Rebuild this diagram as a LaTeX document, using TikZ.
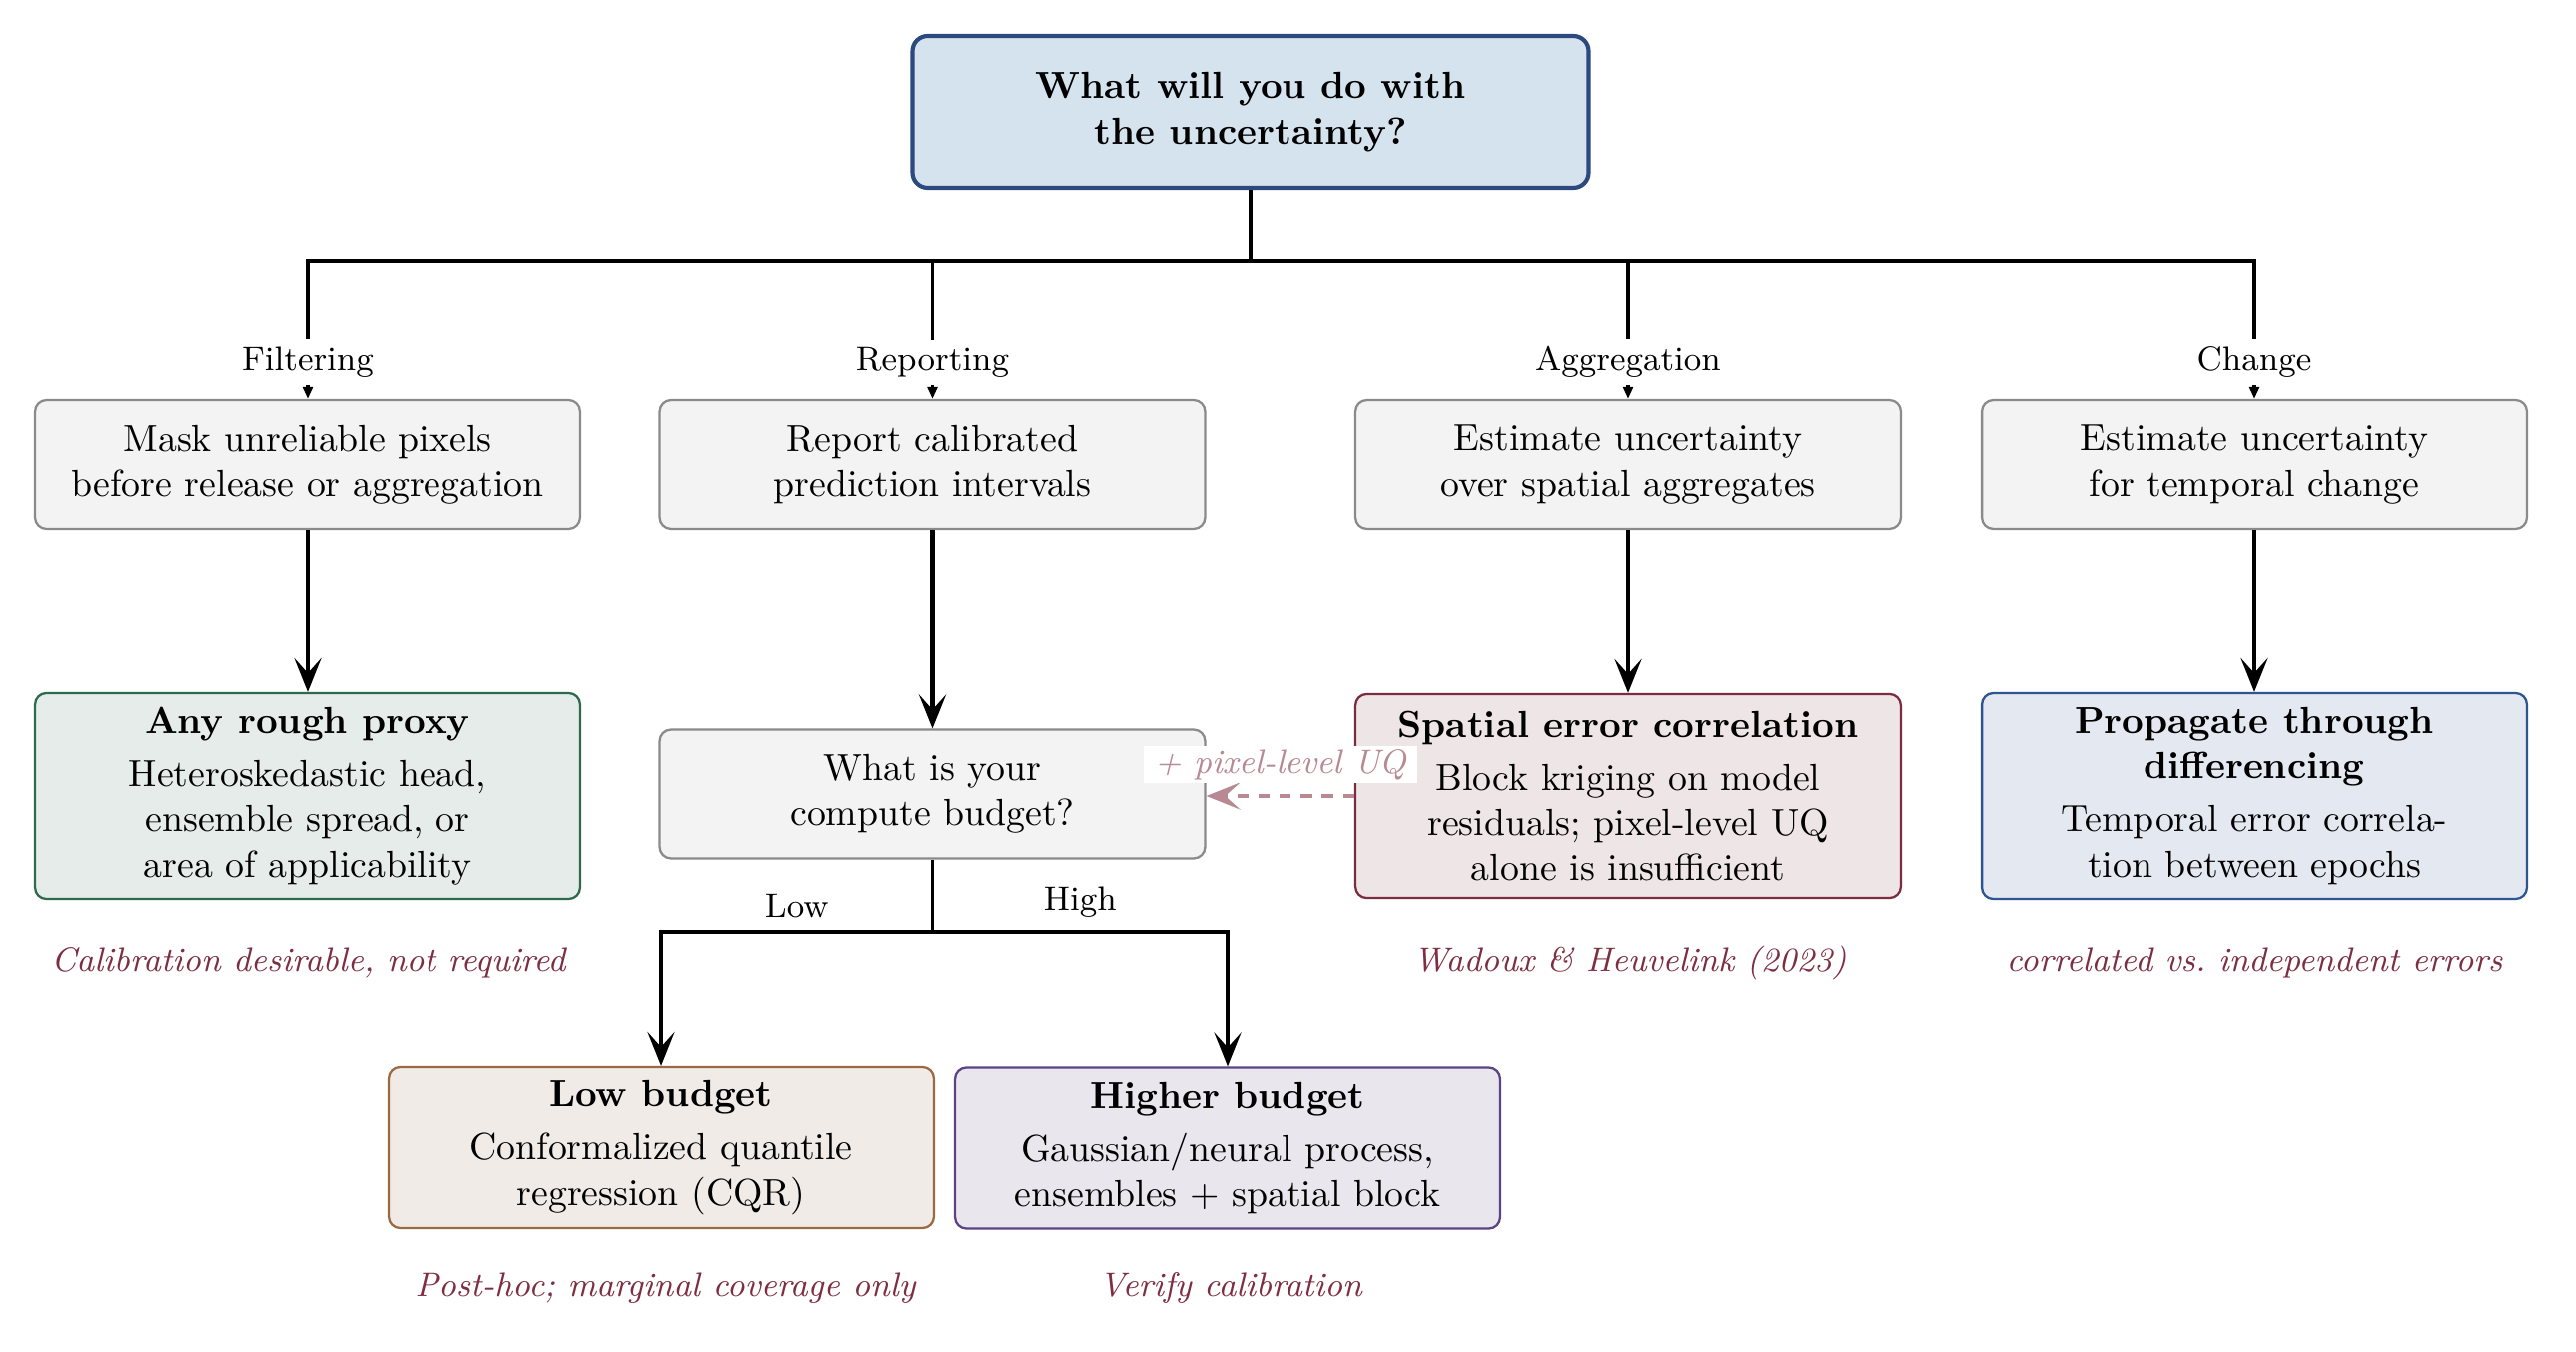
\documentclass[tikz,border=0pt]{standalone}
\usetikzlibrary{arrows.meta}
\definecolor{rootfill}{HTML}{D5E3EF}
\definecolor{rootdraw}{HTML}{2C4A7E}
\definecolor{grayfill}{HTML}{F3F3F3}
\definecolor{graydraw}{HTML}{8A8A8A}
\definecolor{greenfill}{HTML}{E6ECE9}
\definecolor{greendraw}{HTML}{2E6A4E}
\definecolor{redfill}{HTML}{EEE5E7}
\definecolor{reddraw}{HTML}{7C2C41}
\definecolor{bluefill}{HTML}{E4E8F0}
\definecolor{bluedraw}{HTML}{2D5592}
\definecolor{brownfill}{HTML}{F0EBE7}
\definecolor{browndraw}{HTML}{9B6A42}
\definecolor{purplefill}{HTML}{E9E6EE}
\definecolor{purpledraw}{HTML}{5B4384}
\definecolor{notecol}{HTML}{7D2E43}
\definecolor{dashcol}{HTML}{B88993}
\tikzset{
  basebox/.style={line width=0.6pt, rounded corners=3pt, minimum width=144.4pt, align=center, inner sep=3pt},
  rootbox/.style={draw=rootdraw, fill=rootfill, line width=1.1pt, rounded corners=4pt, minimum width=179.1pt, minimum height=40.2pt, align=center, font=\bfseries},
  graybox/.style={basebox, draw=graydraw, fill=grayfill, minimum height=34.1pt},
  greenbox/.style={basebox, draw=greendraw, fill=greenfill, minimum height=54.5pt},
  redbox/.style={basebox, draw=reddraw, fill=redfill, minimum height=54pt},
  bluebox/.style={basebox, draw=bluedraw, fill=bluefill, minimum height=54.5pt},
  brownbox/.style={basebox, draw=browndraw, fill=brownfill, minimum height=42.6pt},
  purplebox/.style={basebox, draw=purpledraw, fill=purplefill, minimum height=42.6pt},
  treeline/.style={line width=0.9pt},
  treetip/.style={treeline, -{Triangle[length=3.2pt,width=2.6pt]}},
  bigarrow/.style={line width=1.1pt, -{Stealth[length=9pt,width=7.2pt,inset=4pt]}},
  dasharrow/.style={line width=1pt, draw=dashcol, dash pattern=on 3pt off 2.6pt, -{Stealth[length=9pt,width=7.2pt,inset=4pt]}},
  branchlbl/.style={font=\small, fill=white, inner sep=2pt},
  splitlbl/.style={font=\small, above},
  dashlbl/.style={font=\small\itshape, text=dashcol, fill=white, inner xsep=3pt, inner ysep=0.8pt, above=3pt},
  note/.style={font=\small\itshape, text=notecol}
}
\begin{document}
\begin{tikzpicture}[x=0.26455pt, y=-0.26455pt]
\fill[white] (0,0) rectangle (2579,1354);
\useasboundingbox (0,0) rectangle (2579,1354);

% root
\node[rootbox] (root) at (1252,112) {What will you do with\\the uncertainty?};

% level 1
\node[graybox] (filt) at (308,465.5) {Mask unreliable pixels\\before release or aggregation};
\node[graybox] (rep) at (933.5,465.5) {Report calibrated\\prediction intervals};
\node[graybox] (agg) at (1630,465.5) {Estimate uncertainty\\over spatial aggregates};
\node[graybox] (chg) at (2257,465.5) {Estimate uncertainty\\for temporal change};

% level 2
\node[greenbox] (proxy) at (308,797) {\textbf{Any rough proxy}\\[2pt]Heteroskedastic head,\\ensemble spread, or\\area of applicability};
\node[graybox] (budget) at (933.5,795) {What is your\\compute budget?};
\node[redbox] (spat) at (1630,797) {\textbf{Spatial error correlation}\\[2pt]Block kriging on model\\residuals; pixel-level UQ\\alone is insufficient};
\node[bluebox] (prop) at (2257,797) {\textbf{Propagate through}\\\textbf{differencing}\\[2pt]Temporal error correla-\\tion between epochs};

% level 3
\node[brownbox] (low) at (662,1149.5) {\textbf{Low budget}\\[2pt]Conformalized quantile\\regression (CQR)};
\node[purplebox] (high) at (1229,1150) {\textbf{Higher budget}\\[2pt]Gaussian/neural process,\\ensembles + spatial block};

% notes
\node[note] (n1) at (309,964) {Calibration desirable, not required};
\node[note] (n2) at (1632,964) {Wadoux \& Heuvelink (2023)};
\node[note] (n3) at (2257,964) {correlated vs.\ independent errors};
\node[note] (n4) at (666,1290) {Post-hoc; marginal coverage only};
\node[note] (n5) at (1232,1290) {Verify calibration};

% root tree
\coordinate (bus) at (1252,261);
\draw[treeline] (root.south) -- (bus);
\draw[treetip] (bus) -| node[branchlbl, pos=0.868] {Filtering} (filt.north);
\draw[treetip] (bus) -| node[branchlbl, pos=0.868] {Reporting} (rep.north);
\draw[treetip] (bus) -| node[branchlbl, pos=0.868] {Aggregation} (agg.north);
\draw[treetip] (bus) -| node[branchlbl, pos=0.868] {Change} (chg.north);

% level 1 -> level 2
\draw[bigarrow] (filt) -- (proxy);
\draw[bigarrow] (rep) -- (budget);
\draw[bigarrow] (agg) -- (spat);
\draw[bigarrow] (chg) -- (prop);

% dashed link
\draw[dasharrow] (spat.west) -- node[dashlbl] {+ pixel-level UQ} (spat.west -| budget.east);

% budget split
\coordinate (bsplit) at (933.5,933);
\draw[treeline] (budget.south) -- (bsplit);
\draw[bigarrow, line width=0.9pt] (bsplit) -| node[splitlbl, pos=0.25] {Low} (low.north);
\draw[bigarrow, line width=0.9pt] (bsplit) -| node[splitlbl, pos=0.25] {High} (high.north);
\end{tikzpicture}
\end{document}
